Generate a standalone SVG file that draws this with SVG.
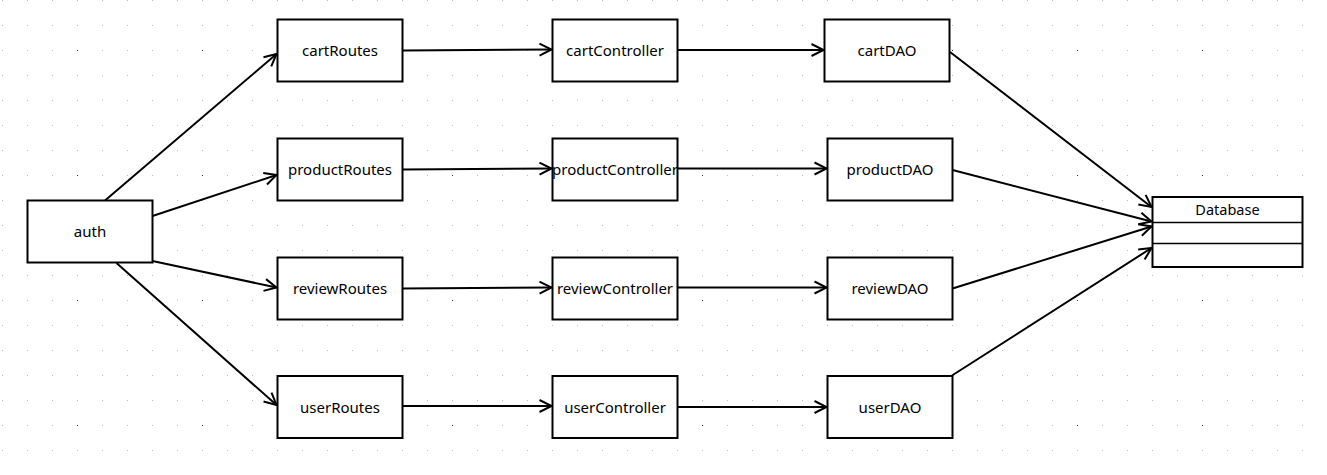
<svg xmlns="http://www.w3.org/2000/svg" width="1327" height="475" viewBox="0 0 1327 475">
<style>
.box{fill:#fff;stroke:#000;stroke-width:2}
.lbl{font-family:"Noto Sans","Open Sans",sans-serif;font-size:15px;fill:#000;text-anchor:middle}
.edge{fill:none;stroke:#000;stroke-width:2;marker-end:url(#arr)}
</style>
<defs>
<pattern id="grid" x="0" y="0" width="25" height="25" patternUnits="userSpaceOnUse">
<rect x="2" y="0" width="1" height="1" fill="#bdbdbd"/>
</pattern>
<pattern id="grid2" x="0" y="0" width="125" height="125" patternUnits="userSpaceOnUse">
<rect x="77" y="50" width="1" height="1" fill="#333"/>
</pattern>
<marker id="arr" markerUnits="userSpaceOnUse" markerWidth="16" markerHeight="16" viewBox="-14 -8 16 16" refX="0" refY="0" orient="auto">
<path d="M-12,-6 L0,0 L-12,6" fill="none" stroke="#000" stroke-width="2" stroke-linejoin="miter"/>
</marker>
</defs>
<rect width="1327" height="475" fill="#fff"/>
<rect width="1327" height="475" fill="url(#grid)"/>
<rect width="1327" height="475" fill="url(#grid2)"/>
<g id="connectors">
<line class="edge" x1="105" y1="200.5" x2="276.5" y2="54"/>
<line class="edge" x1="152.5" y1="216" x2="276.5" y2="175"/>
<line class="edge" x1="152.5" y1="261" x2="276.5" y2="287.5"/>
<line class="edge" x1="116.5" y1="263" x2="276.5" y2="405"/>
<line class="edge" x1="402.5" y1="50.5" x2="551.5" y2="49.5"/>
<line class="edge" x1="402.5" y1="169.5" x2="551.5" y2="168.5"/>
<line class="edge" x1="402.5" y1="288.5" x2="551.5" y2="287.5"/>
<line class="edge" x1="402.5" y1="406" x2="551.5" y2="406"/>
<line class="edge" x1="677.5" y1="50" x2="823.5" y2="50"/>
<line class="edge" x1="677.5" y1="168.5" x2="826.5" y2="168.5"/>
<line class="edge" x1="677.5" y1="287.5" x2="826.5" y2="287.5"/>
<line class="edge" x1="677.5" y1="407" x2="826.5" y2="407"/>
<line class="edge" x1="950" y1="52" x2="1151.5" y2="207"/>
<line class="edge" x1="952.5" y1="170" x2="1151.5" y2="221.5"/>
<line class="edge" x1="952.5" y1="288.5" x2="1151.5" y2="226.5"/>
<line class="edge" x1="952" y1="375.5" x2="1151.5" y2="248"/>
</g>
<g id="auth"><rect class="box" x="27.5" y="200.5" width="125" height="62"/><text class="lbl" x="90" y="237">auth</text></g>
<g id="cartRoutes"><rect class="box" x="277.5" y="19.5" width="125" height="62"/><text class="lbl" x="340" y="56">cartRoutes</text></g>
<g id="productRoutes"><rect class="box" x="277.5" y="138.5" width="125" height="62"/><text class="lbl" x="340" y="175">productRoutes</text></g>
<g id="reviewRoutes"><rect class="box" x="277.5" y="257.5" width="125" height="62"/><text class="lbl" x="340" y="294">reviewRoutes</text></g>
<g id="userRoutes"><rect class="box" x="277.5" y="376" width="125" height="62"/><text class="lbl" x="340" y="412.5">userRoutes</text></g>
<g id="cartController"><rect class="box" x="552.5" y="19.5" width="125" height="62"/><text class="lbl" x="615" y="56">cartController</text></g>
<g id="productController"><rect class="box" x="552.5" y="138.5" width="125" height="62"/><text class="lbl" x="615" y="175">productController</text></g>
<g id="reviewController"><rect class="box" x="552.5" y="257.5" width="125" height="62"/><text class="lbl" x="615" y="294">reviewController</text></g>
<g id="userController"><rect class="box" x="552.5" y="376" width="125" height="62"/><text class="lbl" x="615" y="412.5">userController</text></g>
<g id="cartDAO"><rect class="box" x="824.5" y="19.5" width="125" height="62"/><text class="lbl" x="887" y="56">cartDAO</text></g>
<g id="productDAO"><rect class="box" x="827.5" y="138.5" width="125" height="62"/><text class="lbl" x="890" y="175">productDAO</text></g>
<g id="reviewDAO"><rect class="box" x="827.5" y="257.5" width="125" height="62"/><text class="lbl" x="890" y="294">reviewDAO</text></g>
<g id="userDAO"><rect class="box" x="827.5" y="376" width="125" height="62"/><text class="lbl" x="890" y="412.5">userDAO</text></g>
<g id="Database"><rect class="box" x="1152.5" y="197" width="150" height="70"/><line x1="1152.5" y1="222.5" x2="1302.5" y2="222.5" stroke="#000" stroke-width="1.5"/><line x1="1152.5" y1="243.5" x2="1302.5" y2="243.5" stroke="#000" stroke-width="1.5"/><text class="lbl" x="1227.5" y="215" style="font-size:14.5px">Database</text></g>
</svg>
